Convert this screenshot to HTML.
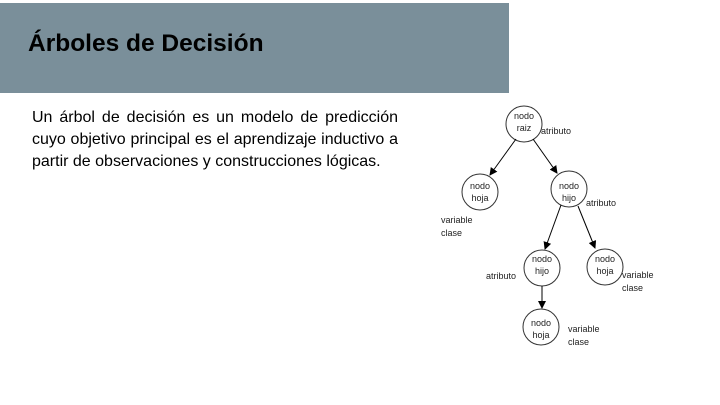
<!DOCTYPE html>
<html><head><meta charset="utf-8"><style>
body{margin:0;width:720px;height:405px;background:#fff;position:relative;overflow:hidden;font-family:"Liberation Sans",sans-serif}
.hdr{position:absolute;left:0;top:3px;width:509px;height:90px;background:#7a8f9a}
.t{position:absolute;left:28px;top:30px;font-size:24.5px;font-weight:bold;color:#000}
.p{position:absolute;left:32px;top:107px;width:366px;font-size:16px;line-height:22px;color:#000}
.p div{text-align:justify;text-align-last:justify;white-space:nowrap}
.p div.l{text-align-last:left}
</style></head><body>
<div class="hdr"></div>
<div class="t">Árboles de Decisión</div>
<div class="p"><div>Un árbol de decisión es un modelo de predicción</div><div>cuyo objetivo principal es el aprendizaje inductivo a</div><div class="l">partir de observaciones y construcciones lógicas.</div></div>
<svg width="720" height="405" style="position:absolute;left:0;top:0" font-family="Liberation Sans, DejaVu Sans, sans-serif" font-size="9">
<defs><marker id="a" markerWidth="8" markerHeight="8" refX="7" refY="4" orient="auto" markerUnits="userSpaceOnUse"><path d="M0,0 L8,4 L0,8z" fill="#000"/></marker></defs>
<g fill="#fff" stroke="#333" stroke-width="1">
<circle cx="524" cy="124" r="18"/><circle cx="480" cy="192" r="18"/><circle cx="569" cy="189" r="18"/>
<circle cx="542" cy="268" r="18"/><circle cx="605" cy="267" r="18"/><circle cx="541" cy="327" r="18"/>
</g>
<g stroke="#000" stroke-width="1" marker-end="url(#a)">
<line x1="516" y1="139" x2="490" y2="175"/><line x1="533" y1="139" x2="557" y2="173"/>
<line x1="561" y1="205" x2="545" y2="249"/><line x1="578" y1="206" x2="595" y2="248"/>
<line x1="542" y1="286" x2="542" y2="308"/>
</g>
<g fill="#222" text-anchor="middle">
<text x="524" y="119">nodo</text><text x="524" y="131">raiz</text>
<text x="480" y="189">nodo</text><text x="480" y="201">hoja</text>
<text x="569" y="189">nodo</text><text x="569" y="201">hijo</text>
<text x="542" y="262">nodo</text><text x="542" y="274">hijo</text>
<text x="605" y="262">nodo</text><text x="605" y="274">hoja</text>
<text x="541" y="326">nodo</text><text x="541" y="338">hoja</text>
</g>
<g fill="#222">
<text x="541" y="134">atributo</text><text x="586" y="206">atributo</text><text x="486" y="279">atributo</text>
<text x="441" y="223">variable</text><text x="441" y="236">clase</text>
<text x="622" y="278">variable</text><text x="622" y="291">clase</text>
<text x="568" y="332">variable</text><text x="568" y="345">clase</text>
</g>
</svg>
</body></html>
